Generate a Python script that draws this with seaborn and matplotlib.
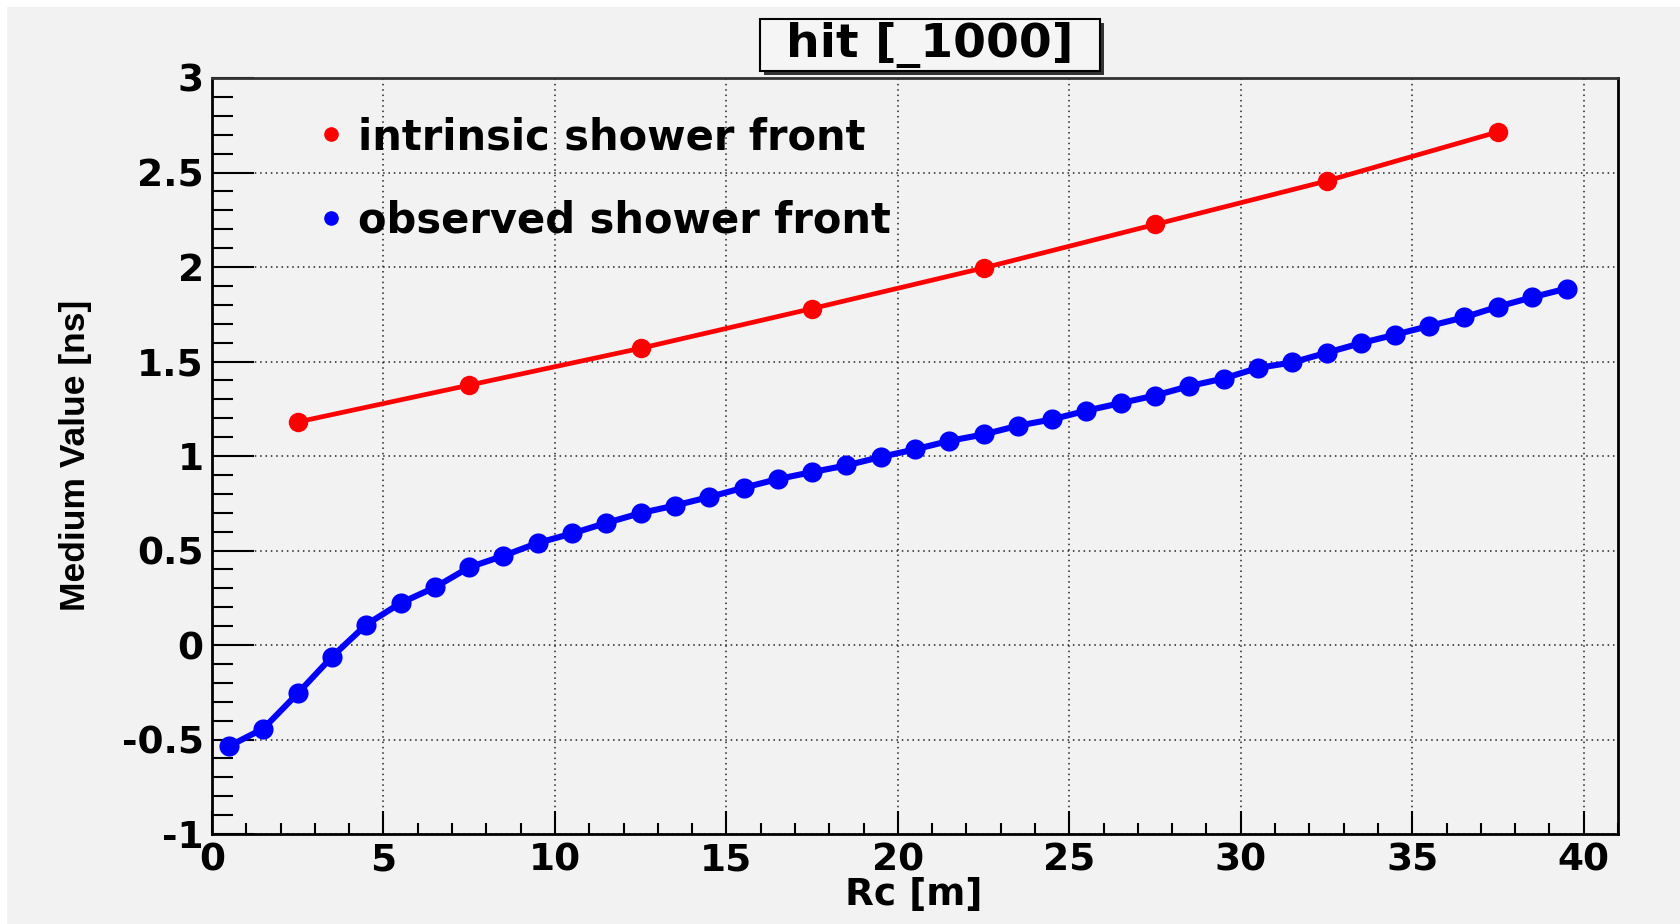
import numpy as np
import pandas as pd
import matplotlib
matplotlib.use("Agg")
import matplotlib.pyplot as plt
from matplotlib.patches import Rectangle
from matplotlib.lines import Line2D
from matplotlib.ticker import MultipleLocator
import seaborn as sns

# ---- data ----
intrinsic_x = [2.5, 7.5, 12.5, 17.5, 22.5, 27.5, 32.5, 37.5]
intrinsic_y = [1.18, 1.375, 1.57, 1.78, 1.995, 2.225, 2.455, 2.715]

observed_x = [0.5 + i for i in range(40)]
observed_y = [-0.535, -0.442, -0.256, -0.062, 0.108, 0.222, 0.305, 0.411, 0.472, 0.54,
              0.59, 0.646, 0.698, 0.738, 0.783, 0.832, 0.878, 0.915, 0.95, 0.995,
              1.035, 1.08, 1.114, 1.16, 1.194, 1.24, 1.28, 1.32, 1.37, 1.41,
              1.466, 1.495, 1.546, 1.597, 1.642, 1.688, 1.733, 1.79, 1.84, 1.886]

labels = ["intrinsic shower front", "observed shower front"]
colors = ["#ff0000", "#0000ff"]
title = "hit [_1000]"
xlabel = "Rc [m]"
ylabel = "Medium Value [ns]"

df_int = pd.DataFrame({"x": intrinsic_x, "y": intrinsic_y})
df_obs = pd.DataFrame({"x": observed_x, "y": observed_y})

# ---- figure ----
W, H = 1680, 924
fig = plt.figure(figsize=(W / 100, H / 100), dpi=100, facecolor="white")
bg = "#f2f2f2"
fig.patches.append(Rectangle((7 / W, 0), 1 - 7 / W, 1 - 7 / H, transform=fig.transFigure,
                             facecolor=bg, edgecolor="none", zorder=-10))

ax = fig.add_axes([212 / W, 1 - 834 / H, 1406 / W, 756 / H])
ax.set_facecolor(bg)

sns.lineplot(data=df_int, x="x", y="y", ax=ax, color=colors[0], linewidth=3.4,
             marker="o", markersize=14, markeredgecolor=colors[0], markeredgewidth=0,
             zorder=3)
sns.lineplot(data=df_obs, x="x", y="y", ax=ax, color=colors[1], linewidth=4.4,
             marker="o", markersize=14.5, markeredgecolor=colors[1], markeredgewidth=0,
             zorder=3)

ax.set_xlim(0, 41)
ax.set_ylim(-1, 3)
ax.xaxis.set_minor_locator(MultipleLocator(1))
ax.yaxis.set_minor_locator(MultipleLocator(0.1))
ax.set_xticks([0, 5, 10, 15, 20, 25, 30, 35, 40])
ax.set_xticklabels(["0", "5", "10", "15", "20", "25", "30", "35", "40"])
ax.set_yticks([-1, -0.5, 0, 0.5, 1, 1.5, 2, 2.5, 3])
ax.set_yticklabels(["-1", "-0.5", "0", "0.5", "1", "1.5", "2", "2.5", "3"])

for lab in ax.get_xticklabels() + ax.get_yticklabels():
    lab.set_fontfamily("DejaVu Sans")
    lab.set_fontweight("bold")
    lab.set_fontsize(27)

ax.tick_params(axis="y", which="major", direction="in", length=30, width=1.5, pad=6,
               left=True, right=False, color="black")
ax.tick_params(axis="y", which="minor", direction="in", length=15, width=1.5,
               left=True, right=False, color="black")
ax.tick_params(axis="x", which="major", direction="in", length=16.5, width=1.5, pad=6,
               bottom=True, top=False, color="black")
ax.tick_params(axis="x", which="minor", direction="in", length=8.2, width=1.5,
               bottom=True, top=False, color="black")

for s in ax.spines.values():
    s.set_linewidth(2)
    s.set_color("black")
ax.spines["top"].set_color("#333333")

ax.grid(True, which="major", color="#222222", linestyle=(0, (1, 2.5)), linewidth=1.1)
ax.set_axisbelow(True)

ax.set_xlabel(xlabel, fontfamily="DejaVu Sans", fontweight="bold", fontsize=27)
ax.set_ylabel(ylabel, fontfamily="Liberation Sans", fontweight="bold", fontsize=25.5)
ax.xaxis.label.set_va("center")
ax.yaxis.label.set_va("center")
ax.xaxis.set_label_coords(0.499, -0.081)
ax.yaxis.set_label_coords(-0.0974, 0.501)

# legend
handles = [Line2D([], [], linestyle="none", marker="o", markersize=9.5,
                  markerfacecolor=c, markeredgecolor=c) for c in colors]
leg = ax.legend(handles, labels, loc="upper left",
                bbox_to_anchor=(318 / W, 1 - 116 / H), bbox_transform=fig.transFigure,
                frameon=False, borderpad=0, borderaxespad=0, handlelength=0.6,
                handletextpad=0.35, labelspacing=1.0,
                prop=dict(family="DejaVu Sans", weight="bold", size=30))

# title box with shadow
bx0, by0, bw, bh = 760 / W, 1 - 71 / H, 340 / W, 52 / H
fig.patches.append(Rectangle((bx0 + 4 / W, by0 - 4 / H), bw, bh, transform=fig.transFigure,
                             facecolor="#333333", edgecolor="none", zorder=5))
fig.patches.append(Rectangle((bx0, by0), bw, bh, transform=fig.transFigure,
                             facecolor="#f5f5f5", edgecolor="black", linewidth=1.5, zorder=6))
fig.text(930 / W, 1 - 45 / H, title, ha="center", va="center", fontfamily="DejaVu Sans",
         fontweight="bold", fontsize=34, zorder=7)

fig.savefig("out.png", dpi=100, facecolor=fig.get_facecolor())
